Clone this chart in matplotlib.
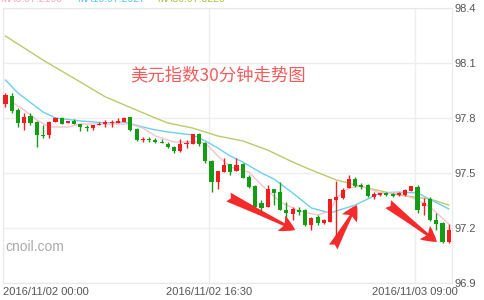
import numpy as np
import matplotlib
matplotlib.use('Agg')
import matplotlib.pyplot as plt

# 美元指数 30分钟K线 (2016/11/02 00:00 起)
opens = [97.876, 97.920, 97.844, 97.773, 97.811, 97.778, 97.707, 97.707, 97.778, 97.800,
         97.773, 97.784, 97.767, 97.751, 97.745, 97.762, 97.767, 97.773, 97.773, 97.778,
         97.805, 97.740, 97.680, 97.685, 97.680, 97.669, 97.658, 97.642, 97.620, 97.658,
         97.658, 97.713, 97.664, 97.565, 97.451, 97.505, 97.549, 97.511, 97.549, 97.478,
         97.429, 97.336, 97.315, 97.413, 97.396, 97.298, 97.276, 97.298, 97.298, 97.216,
         97.260, 97.227, 97.233, 97.353, 97.364, 97.418, 97.467, 97.435, 97.435, 97.369,
         97.380, 97.391, 97.385, 97.380, 97.380, 97.402, 97.424, 97.320, 97.358, 97.244,
         97.227, 97.124]
highs = [97.936, 97.936, 97.855, 97.827, 97.827, 97.784, 97.762, 97.784, 97.805, 97.805,
         97.784, 97.795, 97.767, 97.762, 97.762, 97.778, 97.789, 97.789, 97.800, 97.805,
         97.805, 97.745, 97.696, 97.696, 97.691, 97.685, 97.669, 97.647, 97.685, 97.680,
         97.713, 97.718, 97.669, 97.571, 97.511, 97.582, 97.549, 97.582, 97.555, 97.489,
         97.435, 97.353, 97.435, 97.413, 97.451, 97.342, 97.315, 97.315, 97.304, 97.260,
         97.271, 97.249, 97.358, 97.456, 97.418, 97.489, 97.478, 97.446, 97.440, 97.396,
         97.391, 97.396, 97.391, 97.396, 97.413, 97.429, 97.435, 97.364, 97.369, 97.282,
         97.233, 97.222]
lows = [97.860, 97.827, 97.751, 97.735, 97.762, 97.642, 97.691, 97.691, 97.778, 97.767,
        97.773, 97.767, 97.729, 97.729, 97.735, 97.762, 97.751, 97.751, 97.773, 97.778,
        97.729, 97.675, 97.669, 97.669, 97.664, 97.664, 97.636, 97.609, 97.615, 97.636,
        97.658, 97.647, 97.555, 97.396, 97.413, 97.505, 97.489, 97.511, 97.473, 97.418,
        97.309, 97.282, 97.315, 97.325, 97.298, 97.255, 97.244, 97.271, 97.211, 97.189,
        97.216, 97.222, 97.233, 97.107, 97.358, 97.418, 97.424, 97.413, 97.369, 97.358,
        97.375, 97.375, 97.369, 97.375, 97.375, 97.402, 97.282, 97.271, 97.238, 97.189,
        97.118, 97.118]
closes = [97.925, 97.838, 97.773, 97.805, 97.773, 97.707, 97.702, 97.778, 97.800, 97.767,
          97.784, 97.767, 97.751, 97.745, 97.762, 97.767, 97.778, 97.778, 97.784, 97.800,
          97.735, 97.680, 97.685, 97.680, 97.669, 97.664, 97.642, 97.620, 97.658, 97.664,
          97.713, 97.658, 97.565, 97.451, 97.511, 97.544, 97.505, 97.544, 97.473, 97.424,
          97.315, 97.309, 97.413, 97.391, 97.298, 97.282, 97.304, 97.287, 97.216, 97.255,
          97.227, 97.244, 97.358, 97.369, 97.407, 97.467, 97.429, 97.424, 97.375, 97.385,
          97.391, 97.380, 97.375, 97.391, 97.407, 97.429, 97.298, 97.336, 97.244, 97.222,
          97.124, 97.189]

# 均线 (读图取点)
ma5_idx = [1, 3, 5, 7, 10, 12, 16, 20, 22, 24, 27, 30, 32, 34, 36, 39, 41, 44, 47, 50,
           52, 53, 55, 57, 60, 63, 66, 68, 71]
ma5_val = [97.887, 97.844, 97.789, 97.751, 97.751, 97.767, 97.767, 97.767, 97.745, 97.702,
           97.669, 97.669, 97.664, 97.593, 97.533, 97.505, 97.435, 97.342, 97.293, 97.271,
           97.293, 97.364, 97.418, 97.429, 97.391, 97.391, 97.353, 97.315, 97.222]
ma10_idx = [0, 2, 6, 8, 12, 16, 19, 22, 24, 26, 30, 32, 34, 36, 38, 41, 43, 46, 49, 52,
            56, 60, 63, 66, 71]
ma10_val = [98.007, 97.936, 97.833, 97.800, 97.784, 97.773, 97.778, 97.751, 97.735, 97.724,
            97.707, 97.675, 97.636, 97.593, 97.560, 97.500, 97.467, 97.391, 97.309, 97.282,
            97.325, 97.391, 97.396, 97.391, 97.304]
ma30_idx = [0, 4, 6, 12, 16, 24, 26, 30, 34, 38, 42, 46, 49, 53, 58, 63, 68, 71]
ma30_val = [98.247, 98.160, 98.116, 97.996, 97.915, 97.800, 97.773, 97.745, 97.702, 97.675,
            97.625, 97.560, 97.516, 97.462, 97.418, 97.380, 97.358, 97.325]

xlabels = ['2016/11/02 00:00', '2016/11/02 16:30', '2016/11/03 09:00']
xlabel_bars = [0, 33, 66]
yticks = [96.9, 97.2, 97.5, 97.8, 98.1, 98.4]

RED = '#f01e1e'
GREEN = '#149c14'

fig = plt.figure(figsize=(4.84, 3.0), dpi=100)
ax = fig.add_axes([3/484, 17/300, 449/484, 275/300])

o = np.array(opens); h = np.array(highs); l = np.array(lows); c = np.array(closes)
x = np.arange(len(o))
col = np.where(c >= o, RED, GREEN)

ax.vlines(x, l, h, colors=col, linewidth=1, zorder=3)
ax.bar(x, np.maximum(np.abs(c - o), 0.004), bottom=np.minimum(o, c), width=0.66,
       color=col, linewidth=0, zorder=4)

ax.plot(ma30_idx, ma30_val, color='#b8cc6a', linewidth=1, zorder=2)
ax.plot(ma10_idx, ma10_val, color='#6cd0ea', linewidth=1, zorder=2)
ax.plot(ma5_idx, ma5_val, color='#f8c2cf', linewidth=1, zorder=2)

ax.set_xlim(-0.32, 71.52)
ax.set_ylim(96.9, 98.4)

ax.set_yticks(yticks)
ax.set_yticklabels(['%.1f' % v for v in yticks])
ax.yaxis.tick_right()
tick_x = np.array(xlabel_bars) - 0.4
ax.set_xticks(tick_x)
ax.set_xticklabels(xlabels)
ax.tick_params(length=0, labelsize=8, colors='#555555', pad=3)
ax.tick_params(axis='y', pad=2)
for lab in ax.get_xticklabels() + ax.get_yticklabels():
    lab.set_fontfamily('Liberation Sans')
ax.get_xticklabels()[0].set_horizontalalignment('left')
ax.get_xticklabels()[0].set_x(-0.6)

ax.grid(True, color='#eeeeee', linewidth=1)
ax.set_axisbelow(True)
for s in ax.spines.values():
    s.set_color('#e8e8e8')

ax.text(0.283, 0.755, '美元指数30分钟走势图', transform=ax.transAxes, fontsize=12.5,
        color='#f25c5c', va='center', ha='left',
        family=['Noto Sans CJK SC', 'DejaVu Sans'])
ax.text(0.006, 0.13, 'cnoil.com', transform=ax.transAxes, fontsize=10,
        color='#aaaaaa', va='center', ha='left', family='Liberation Sans')

# 红色箭头
arrows = [((35.7, 97.369), (46.4, 97.189)),
          ((52.5, 97.096), (56.3, 97.325)),
          ((61.3, 97.330), (69.1, 97.124))]
for tail, head in arrows:
    ax.annotate('', xy=head, xytext=tail,
                arrowprops=dict(arrowstyle='fancy,head_length=1.1,head_width=1.2,tail_width=0.7',
                                color='#f52a2a', lw=0, shrinkA=0, shrinkB=0), zorder=6)

# 顶部/底部被截断的指标文字
fig.text(0/484, 1.005, 'MA5:97.2100', color='#f7a8bd', fontsize=7.5, va='center', ha='left',
         family='Liberation Sans')
fig.text(77/484, 1.005, 'MA10:97.2927', color='#4fc8e8', fontsize=7.5, va='center', ha='left',
         family='Liberation Sans')
fig.text(157/484, 1.005, 'MA30:97.3220', color='#a8c640', fontsize=7.5, va='center', ha='left',
         family='Liberation Sans')
fig.text(0/484, -0.017, 'MACD:-0.0106', color='#e05050', fontsize=7.5, va='center', ha='left',
         family='Liberation Sans')
fig.text(86/484, -0.017, 'DIF:-0.0421', color='#c85ac8', fontsize=7.5, va='center', ha='left',
         family='Liberation Sans')
fig.text(172/484, -0.017, 'DEA:-0.0368', color='#5ec8e6', fontsize=7.5, va='center', ha='left',
         family='Liberation Sans')

fig.savefig('out.png', dpi=100)
